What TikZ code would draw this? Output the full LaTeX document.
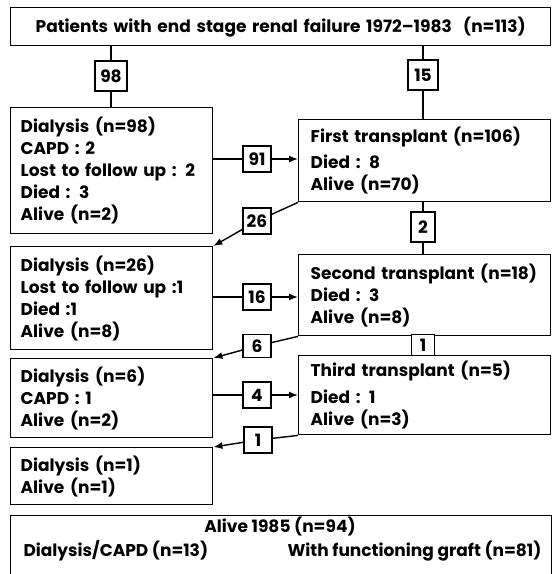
\documentclass[tikz,border=0pt]{standalone}
\usepackage{fontspec}
\setmainfont{Poppins}
\usetikzlibrary{arrows.meta}
\begin{document}
\begin{tikzpicture}[x=1pt,y=-1pt,
  every node/.style={font=\fontsize{17}{22}\selectfont\bfseries},
  box/.style={draw, line width=1.4pt, anchor=north west, inner xsep=10pt, inner ysep=0pt, align=left},
  rbox/.style={box, inner xsep=12pt, text width=228pt, minimum width=252pt},
  lbox/.style={box, text width=182pt},
  num/.style={draw, line width=1.4pt, fill=white, minimum width=28pt, minimum height=26pt, inner sep=0pt},
  ln/.style={line width=1.4pt},
  arr/.style={line width=1.4pt, -{Latex[length=9pt,width=7pt]}}]
\clip (0,0) rectangle (558,574);
\fill[white] (0,0) rectangle (558,574);
% main boxes
\node[box, align=center, text width=520pt, minimum height=38pt] (top) at (10,7)
  {Patients with end stage renal failure 1972--1983~~(n=113)};
\node[lbox, minimum height=126pt] (d98) at (10,107)
  {Dialysis (n=98)\\CAPD : 2\\Lost to follow up : 2\\Died : 3\\Alive (n=2)};
\node[rbox, minimum height=82pt] (t1) at (298,119)
  {\mbox{First transplant (n=106)}\\[4pt]Died : 8\\Alive (n=70)};
\node[lbox, minimum height=103pt] (d26) at (10,246)
  {Dialysis (n=26)\\Lost to follow up :1\\Died :1\\Alive (n=8)};
\node[rbox, minimum height=81pt] (t2) at (298,254)
  {\mbox{Second transplant (n=18)}\\Died : 3\\Alive (n=8)};
\node[lbox, minimum height=79pt] (d6) at (10,358)
  {Dialysis (n=6)\\CAPD : 1\\Alive (n=2)};
\node[rbox, minimum height=79pt] (t3) at (298,355)
  {\mbox{Third transplant (n=5)}\\[5pt]Died : 1\\Alive (n=3)};
\node[lbox, minimum height=57pt] (d1) at (10,447)
  {Dialysis (n=1)\\Alive (n=1)};
\node[box, minimum width=541pt, minimum height=70pt] (alive) at (10,515) {};
\node[anchor=base] (alh) at (280,532) {Alive 1985 (n=94)};
\node[anchor=base west] (ald) at (20,556) {Dialysis/CAPD (n=13)};
\node[anchor=base east] (alg) at (545,556) {With functioning graft (n=81)};
% number boxes
\node[num, minimum width=32pt, minimum height=30pt] (n98) at (111,76) {98};
\node[num, minimum width=30pt, minimum height=30pt] (n15) at (423,75) {15};
\node[num] (n91) at (257,159) {91};
\node[num] (n26) at (257,221) {26};
\node[num, minimum width=24pt, minimum height=30pt] (n2) at (423,227) {2};
\node[num] (n16) at (257,297) {16};
\node[num, minimum height=23pt] (n6) at (257,346) {6};
\node[num, minimum width=23pt, minimum height=21pt] (n1a) at (423,345) {1};
\node[num] (n4) at (257,395) {4};
\node[num] (n1b) at (258,440) {1};
% connectors
\draw[ln] (top.south -| n98) -- (n98) -- (d98.north -| n98);
\draw[ln] (top.south -| n15) -- (n15) -- (t1.north -| n15);
\draw[ln] (d98.east |- n91) -- (n91);
\draw[arr] (n91) -- (t1.west |- n91);
\draw[ln] (t1.south west) -- (n26);
\draw[arr] (n26) -- (d26.north east);
\draw[ln] (t1.south -| n2) -- (n2) -- (t2.north -| n2);
\draw[ln] (d26.east |- n16) -- (n16);
\draw[arr] (n16) -- (t2.west |- n16);
\draw[ln] (t2.south west) -- (n6);
\draw[arr] (n6) -- (d6.north east);
\draw[ln] (d6.east |- n4) -- (n4);
\draw[arr] (n4) -- (t3.west |- n4);
\draw[ln] (t3.south west) -- (n1b);
\draw[arr] (n1b) -- (d1.north east);
\end{tikzpicture}
\end{document}
